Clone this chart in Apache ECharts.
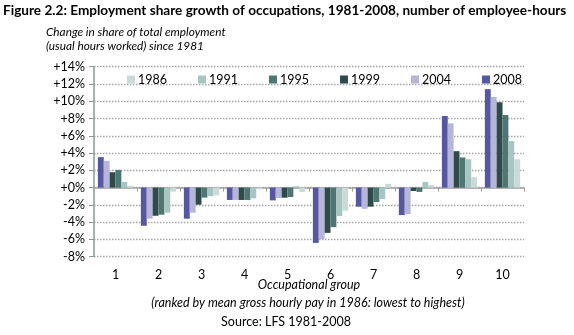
<!DOCTYPE html>
<html><head><meta charset="utf-8">
<script src="https://cdn.jsdelivr.net/npm/echarts@6/dist/echarts.min.js"></script>
<style>html,body{margin:0;padding:0;background:#fff}#c{width:574px;height:335px}</style>
</head><body><div id="c"></div>
<script>
var categories = ['1','2','3','4','5','6','7','8','9','10'];
var yTicks = [-8,-6,-4,-2,0,2,4,6,8,10,12,14];
var s2008 = [3.53,-4.42,-3.6,-1.43,-1.48,-6.4,-2.21,-3.18,8.29,11.4];
var s2004 = [3.1,-3.6,-2.9,-1.43,-1.2,-5.98,-2.45,-3.07,7.44,10.5];
var s1999 = [1.78,-3.26,-1.98,-1.43,-1.17,-5.24,-2.21,-0.39,4.22,9.88];
var s1995 = [2.05,-3.14,-1.16,-1.43,-1.09,-4.58,-1.67,-0.5,3.49,8.41];
var s1991 = [0.66,-2.9,-1.0,-1.24,0.16,-3.3,-1.32,0.66,3.29,5.39];
var s1986 = [0.2,-0.47,-0.9,-0.2,-0.5,-2.68,0.43,0.31,1.2,3.29];
var seriesNames = ['2008','2004','1999','1995','1991','1986'];
var legendOrder = ['1986','1991','1995','1999','2004','2008'];
var colors = {'2008':'#55579f','2004':'#b6b6da','1999':'#2f4b49','1995':'#4e7773','1991':'#a7c5c3','1986':'#c9dad8'};
var dataBy = {'2008':s2008,'2004':s2004,'1999':s1999,'1995':s1995,'1991':s1991,'1986':s1986};
var FONT = 'Lato';
var chart = echarts.init(document.getElementById('c'), null, {renderer:'canvas'});
chart.setOption({
  animation:false,
  textStyle:{fontFamily:FONT},
  grid:{left:94,right:50,top:66.7,bottom:78.3,containLabel:false},
  legend:{data:legendOrder,left:122,top:68,itemWidth:8,itemHeight:8,itemGap:31,icon:'rect',
    textStyle:{fontFamily:FONT,fontSize:12.5,color:'#000',padding:[0,0,0,-2]}},
  xAxis:[{type:'category',data:categories,axisLine:{onZero:true,lineStyle:{color:'#a0a0a0',width:1.5}},
      axisTick:{show:true,alignWithLabel:false,length:4,lineStyle:{color:'#a0a0a0'}},axisLabel:{show:false}},
    {type:'category',data:categories,position:'bottom',axisLine:{show:false,onZero:false},axisTick:{show:false},
      axisLabel:{show:true,margin:12,color:'#000',fontFamily:FONT,fontSize:12.5}}],
  yAxis:{type:'value',min:yTicks[0],max:yTicks[yTicks.length-1],interval:2,
    axisLine:{show:true,lineStyle:{color:'#8a9a98',width:1.5}},
    axisTick:{show:true,length:5,lineStyle:{color:'#8a9a98'}},
    axisLabel:{color:'#000',fontFamily:FONT,fontSize:12.5,margin:9,
      formatter:function(v){return (v>=0?'+':'')+v+'%';}},
    splitLine:{show:true,lineStyle:{color:'#a8a8a8',type:[1.5,1.5],width:1.3}}},
  series:seriesNames.map(function(n){return {name:n,type:'bar',xAxisIndex:0,data:dataBy[n],
    barGap:'0%',barCategoryGap:'18%',itemStyle:{color:colors[n]}};}),
  graphic:[
    {type:'text',left:3,top:4,style:{text:'Figure 2.2: Employment share growth of occupations, 1981-2008, number of employee-hours',
      font:'bold 13.6px '+FONT,fill:'#000'}},
    {type:'text',left:46,top:26,style:{text:'Change in share of total employment',font:'italic 11.8px '+FONT,fill:'#000'}},
    {type:'text',left:46,top:40,style:{text:'(usual hours worked) since 1981',font:'italic 11.8px '+FONT,fill:'#000'}},
    {type:'text',x:309,y:285,style:{text:'Occupational group',font:'italic 12.5px '+FONT,fill:'#000',align:'center',verticalAlign:'middle'}},
    {type:'text',x:308,y:303,style:{text:'(ranked by mean gross hourly pay in 1986: lowest to highest)',font:'italic 12.5px '+FONT,fill:'#000',align:'center',verticalAlign:'middle'}},
    {type:'text',x:286,y:322,style:{text:'Source: LFS 1981-2008',font:'12.5px '+FONT,fill:'#000',align:'center',verticalAlign:'middle'}}
  ]
});
</script></body></html>
